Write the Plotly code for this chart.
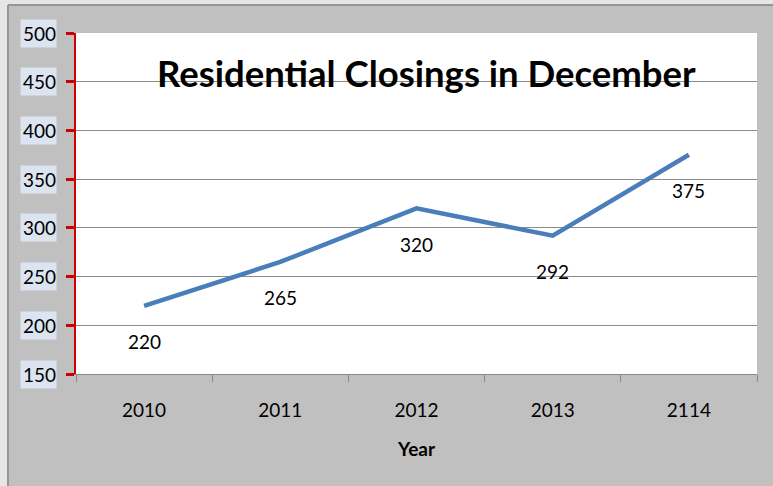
import plotly.graph_objects as go

years = ["2010", "2011", "2012", "2013", "2114"]
closings = [220, 265, 320, 292, 375]
y_ticks = [150, 200, 250, 300, 350, 400, 450, 500]
title_text = "Residential Closings in December"
x_title = "Year"

FONT = "Lato, 'Open Sans', sans-serif"

fig = go.Figure()
fig.add_trace(go.Scatter(
    x=years, y=closings, mode="lines",
    line=dict(color="#4a7ebb", width=4.5),
    hoverinfo="skip", showlegend=False,
))

# plot area in pixels: x 76..757, y 33..374
W, H = 773, 486
L, R, T, B = 76, 757, 33, 374
pw, ph = R - L, B - T

def px(x):
    return (x - L) / pw

def py(y):
    return (B - y) / ph

annotations = []
# title
annotations.append(dict(
    x=px(426), y=py(73), xref="paper", yref="paper", text="<b>" + title_text + "</b>",
    showarrow=False, xanchor="center", yanchor="middle",
    font=dict(family=FONT, size=36.5, color="black"),
))
# data labels below points
for i, v in enumerate(closings):
    annotations.append(dict(
        x=i, y=v, xref="x", yref="y", text=str(v), showarrow=False,
        xanchor="center", yanchor="middle", yshift=-36,
        font=dict(family=FONT, size=19, color="black"),
    ))
# y tick labels with light-blue background
for v in y_ticks:
    annotations.append(dict(
        x=px(57), y=v, xref="paper", yref="y", text=str(v), showarrow=False,
        xanchor="right", yanchor="middle", width=35, height=27, align="right",
        bgcolor="#dbe4f0", borderpad=0,
        font=dict(family=FONT, size=19, color="black"),
    ))

shapes = [
    dict(type="rect", xref="paper", yref="paper", layer="above",
         x0=px(-5), x1=px(8), y0=py(500), y1=py(-5),
         fillcolor="#e6e6e6", line=dict(width=0)),
    dict(type="rect", xref="paper", yref="paper", layer="above",
         x0=px(-5), x1=px(790), y0=py(5), y1=py(-5),
         fillcolor="#e6e6e6", line=dict(width=0)),
    dict(type="line", xref="paper", yref="paper", layer="above",
         x0=px(8), x1=px(8), y0=py(5), y1=py(500),
         line=dict(color="#959595", width=2)),
    dict(type="line", xref="paper", yref="paper", layer="above",
         x0=px(8), x1=px(790), y0=py(5), y1=py(5),
         line=dict(color="#959595", width=2)),
]

fig.update_layout(
    width=W, height=H,
    margin=dict(l=L, r=W - R, t=T, b=H - B, pad=0),
    paper_bgcolor="#c0c0c0", plot_bgcolor="white",
    annotations=annotations, shapes=shapes,
    xaxis=dict(
        type="category", tickson="boundaries", ticks="outside", ticklen=7,
        tickcolor="#888888", tickwidth=1.3, showline=True, linecolor="#888888",
        linewidth=1.3, showgrid=False, zeroline=False,
        tickfont=dict(family=FONT, size=19, color="black"),
        ticklabelstandoff=19,
        title=dict(text="<b>" + x_title + "</b>", font=dict(family=FONT, size=19, color="black"), standoff=22),
        range=[-0.5, 4.5], fixedrange=True,
    ),
    yaxis=dict(
        range=[150, 500], tickvals=y_ticks, showticklabels=False,
        ticks="outside", ticklen=8, tickwidth=3, tickcolor="#cc0000",
        showline=True, linecolor="#cc0000", linewidth=2,
        showgrid=True, gridcolor="#8c8c8c", gridwidth=1.3, zeroline=False,
        fixedrange=True,
    ),
)

fig.write_html("out.html")
